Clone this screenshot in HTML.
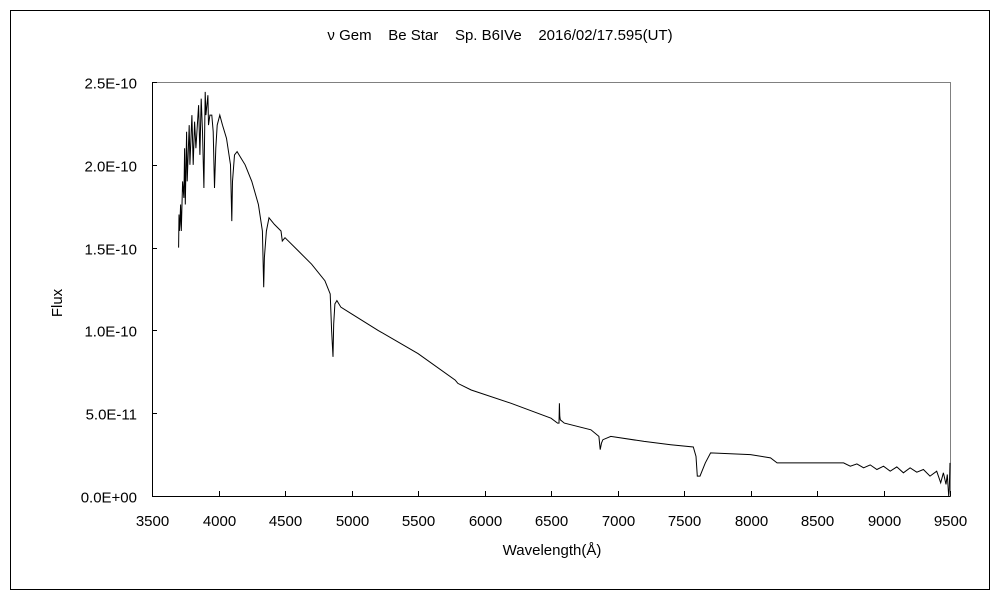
<!DOCTYPE html>
<html><head><meta charset="utf-8"><style>
body{margin:0;background:#fff}
svg text{font-family:"Liberation Sans","Noto Sans CJK JP",sans-serif;fill:#000}
</style></head><body>
<svg id="chart" width="1000" height="600" xmlns="http://www.w3.org/2000/svg">
<rect x="10.5" y="10.5" width="979" height="579" fill="#fff" stroke="#000"/>
<text x="500" y="40" font-size="15" text-anchor="middle" xml:space="preserve">ν Gem    Be Star    Sp. B6IVe    2016/02/17.595(UT)</text>
<text transform="translate(62,303) rotate(-90)" font-size="15" text-anchor="middle">Flux</text>
<text x="552" y="555" font-size="15" text-anchor="middle">Wavelength(Å)</text>
<g id="axes"></g>
<g id="plot"></g>
</svg>
<script>
const xTicks=[3500,4000,4500,5000,5500,6000,6500,7000,7500,8000,8500,9000,9500];
const yTicks=[0,0.5,1.0,1.5,2.0,2.5];
const yTickLabels=["0.0E+00","5.0E-11","1.0E-10","1.5E-10","2.0E-10","2.5E-10"];
const wavelength=[3700,3703,3706,3710,3715,3720,3730,3740,3745,3750,3760,3765,3780,3785,3800,3810,3820,3830,3850,3860,3870,3880,3890,3900,3905,3920,3925,3935,3950,3960,3970,3980,3990,4010,4030,4060,4090,4100,4105,4120,4140,4170,4200,4250,4300,4330,4340,4345,4360,4380,4420,4470,4480,4500,4600,4700,4800,4840,4850,4861,4866,4875,4890,4920,5000,5200,5500,5780,5800,5900,6200,6500,6550,6560,6563,6566,6570,6600,6800,6860,6870,6880,6890,6950,7200,7400,7570,7590,7600,7620,7660,7700,8000,8150,8200,8500,8700,8750,8800,8850,8900,8950,9000,9050,9100,9150,9200,9250,9300,9350,9400,9430,9450,9470,9480,9490,9495,9500];
const flux=[1.50,1.70,1.60,1.64,1.76,1.60,1.90,1.80,2.10,1.76,2.20,1.90,2.24,2.00,2.30,2.00,2.26,2.10,2.36,2.06,2.40,2.20,1.86,2.44,2.30,2.42,2.24,2.30,2.30,2.20,1.86,2.10,2.24,2.30,2.24,2.16,2.00,1.66,1.90,2.06,2.08,2.04,2.00,1.90,1.76,1.60,1.26,1.44,1.60,1.68,1.64,1.60,1.54,1.56,1.48,1.40,1.30,1.22,1.00,0.84,1.04,1.16,1.18,1.14,1.10,1.00,0.86,0.70,0.68,0.64,0.56,0.47,0.44,0.44,0.56,0.48,0.46,0.44,0.40,0.36,0.28,0.32,0.34,0.36,0.33,0.31,0.296,0.24,0.12,0.12,0.20,0.26,0.25,0.23,0.20,0.20,0.20,0.18,0.194,0.17,0.188,0.16,0.18,0.15,0.176,0.14,0.17,0.144,0.16,0.12,0.15,0.08,0.14,0.07,0.13,0.0,0.04,0.20];
const L=152,R=950,T=82,B=496;
const xs=v=>L+(v-3500)/6000*(R-L);
const ys=v=>B-v/2.5*(B-T);
const NS="http://www.w3.org/2000/svg";
const axes=document.getElementById('axes'),plot=document.getElementById('plot');
function mk(tag,attrs,parent){const e=document.createElementNS(NS,tag);for(const k in attrs)e.setAttribute(k,attrs[k]);parent.appendChild(e);return e;}
let e=mk('rect',{x:L+0.5,y:T+0.5,width:R-L,height:B-T,fill:'none',stroke:'#808080'},axes);


e=mk('path',{d:`M${L+0.5},${T}V${B+0.5}H${R+0.5}`,fill:'none',stroke:'#000'},axes);


xTicks.forEach(v=>{const x=Math.round(xs(v))+0.5;
 let t=mk('line',{x1:x,x2:x,y1:B,y2:B-5,stroke:'#000'},axes);
 
 
 let l=mk('text',{x:x,y:B+30,'font-size':15,'text-anchor':'middle'},axes);l.textContent=v;
 
 
});
yTicks.forEach((v,i)=>{const y=Math.round(ys(v))+0.5;
 let t=mk('line',{x1:L,x2:L+5,y1:y,y2:y,stroke:'#000'},axes);
 
 
 let l=mk('text',{x:137,y:y+6,'font-size':15,'text-anchor':'end'},axes);l.textContent=yTickLabels[i];
 
 
});
const d=wavelength.map((w,i)=>(i?'L':'M')+xs(w).toFixed(1)+','+ys(flux[i]).toFixed(1)).join('');
const p=mk('path',{d:d,fill:'none',stroke:'#000','stroke-width':1},plot);


</script>
</body></html>
